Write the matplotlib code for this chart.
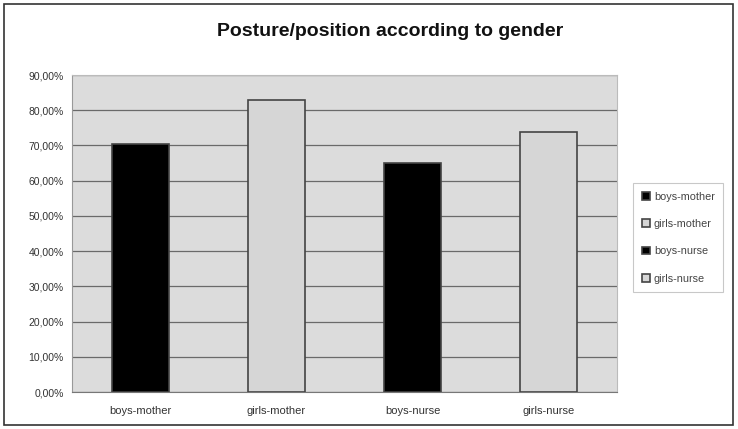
import matplotlib.pyplot as plt
import matplotlib.ticker as ticker
from matplotlib.patches import Rectangle

# Dados
categories = ["boys-mother", "girls-mother", "boys-nurse", "girls-nurse"]
values = [70.5, 83.0, 65.0, 73.7]
bar_colors = ["#000000", "#d6d6d6", "#000000", "#d6d6d6"]
y_ticks = [0, 10, 20, 30, 40, 50, 60, 70, 80, 90]

plt.rcParams.update({
    "font.family": ["Liberation Sans", "DejaVu Sans"],
})

fig = plt.figure(figsize=(7.38, 4.29), dpi=100)
fig.patch.set_facecolor("white")
ax = fig.add_axes([72 / 738, 1 - 392 / 429, (617 - 72) / 738, (392 - 75) / 429])

ax.set_facecolor("#dcdcdc")
x = range(len(categories))
for i, (cat, val, col) in enumerate(zip(categories, values, bar_colors)):
    ax.bar(i, val, width=0.42, color=col, edgecolor="#444444", linewidth=1.2,
           label=cat, zorder=3)

ax.set_ylim(0, 90)
ax.set_xlim(-0.5, len(categories) - 0.5)
ax.set_yticks(y_ticks)
ax.yaxis.set_major_formatter(ticker.FuncFormatter(lambda v, p: f"{v:.2f}%".replace(".", ",")))
ax.set_xticks(list(x))
ax.set_xticklabels(categories)
ax.tick_params(axis="both", labelsize=7.5, colors="#333333", length=0, pad=6)
ax.tick_params(axis="x", pad=10, labelsize=8)
ax.grid(axis="y", color="#6a6a6a", linewidth=0.9, zorder=1)

for s in ["top", "right"]:
    ax.spines[s].set_color("#bbbbbb")
ax.spines["left"].set_color("#999999")
ax.spines["bottom"].set_color("#777777")

fig.text(0.528, 1 - 31 / 429, "Posture/position according to gender", ha="center", va="center",
         fontsize=14, fontweight="bold", color="#111111")

leg = ax.legend(loc="center left", bbox_to_anchor=(1.02, 0.487), fontsize=7.8, frameon=True,
                fancybox=False, handlelength=0.7, handleheight=0.7, handletextpad=0.4,
                labelspacing=1.6, borderpad=0.8, labelcolor="#444444")
leg.get_frame().set_edgecolor("#bbbbbb")
leg.get_frame().set_linewidth(0.8)

fig.add_artist(Rectangle((4 / 738, 4 / 429), 729 / 738, 421 / 429, transform=fig.transFigure,
                         fill=False, edgecolor="#333333", linewidth=1.2))

fig.savefig("out.png", dpi=100, facecolor=fig.get_facecolor())
